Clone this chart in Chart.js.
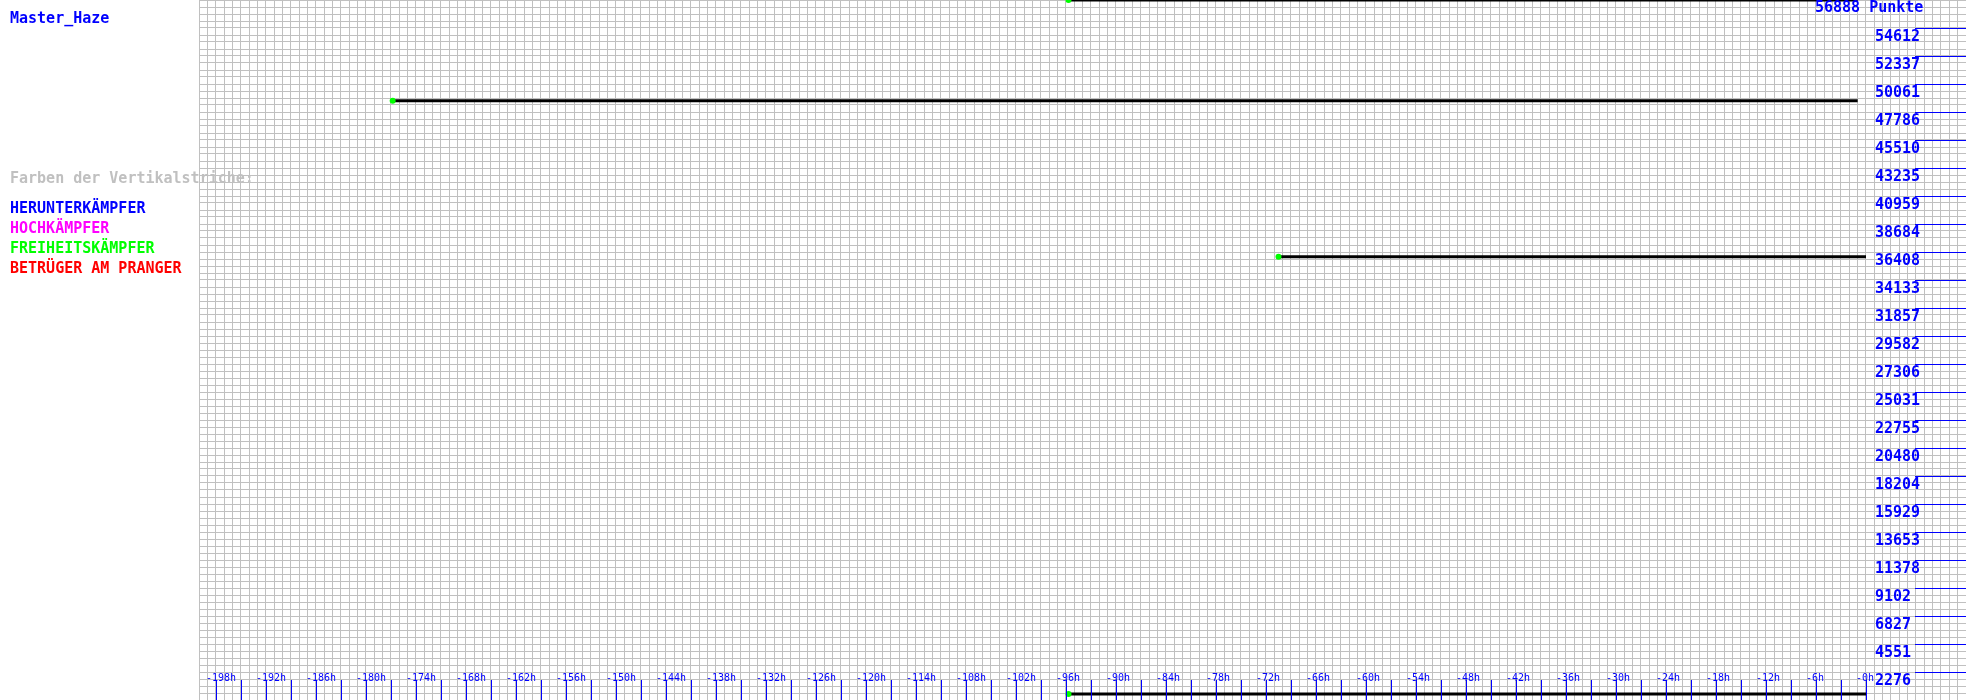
<!DOCTYPE html>
<html>
<head>
<meta charset="utf-8">
<script src="https://cdn.jsdelivr.net/npm/chart.js@4.4.0/dist/chart.umd.min.js"></script>
<style>
  html, body { margin: 0; padding: 0; background: #ffffff; }
  #wrap { position: relative; width: 1966px; height: 700px; }
  canvas { display: block; }
</style>
</head>
<body>
<div id="wrap"><canvas id="c" width="1966" height="700"></canvas></div>
<script>
// ---- data ----
const playerName = 'Master_Haze';
const legendTitle = 'Farben der Vertikalstriche:';
const legendLabels = ['HERUNTERKÄMPFER', 'HOCHKÄMPFER', 'FREIHEITSKÄMPFER', 'BETRÜGER AM PRANGER'];
const legendColors = ['#0000ff', '#ff00ff', '#00ff00', '#ff0000'];

// horizontal segments: start hour, end hour, points
const segStartHours = [-95.7, -176.8, -70.5, -95.7];
const segEndHours   = [-1, -1, 0, 0];
const segPoints     = [56888, 48705, 36027, 488];

const yMax = 56888;
const yTopLabel = '56888 Punkte';
const yTickValues = [2276, 4551, 6827, 9102, 11378, 13653, 15929, 18204, 20480, 22755, 25031, 27306,
  29582, 31857, 34133, 36408, 38684, 40959, 43235, 45510, 47786, 50061, 52337, 54612];
const yTickLabels = ['2276', '4551', '6827', '9102', '11378', '13653', '15929', '18204', '20480', '22755', '25031', '27306',
  '29582', '31857', '34133', '36408', '38684', '40959', '43235', '45510', '47786', '50061', '52337', '54612'];

const xTickLabels = ['-198h','-192h','-186h','-180h','-174h','-168h','-162h','-156h','-150h','-144h','-138h','-132h',
  '-126h','-120h','-114h','-108h','-102h','-96h','-90h','-84h','-78h','-72h','-66h','-60h','-54h','-48h','-42h',
  '-36h','-30h','-24h','-18h','-12h','-6h','-0h'];
const xMarkStep = 3;

// ---- chart ----
const datasets = segPoints.map((v, i) => ({
  data: [{x: segStartHours[i], y: v}, {x: segEndHours[i], y: v}],
  borderColor: '#000000',
  borderWidth: 3,
  pointRadius: [3, 0],
  pointHoverRadius: 0,
  pointBackgroundColor: '#00ff00',
  pointBorderColor: '#00ff00',
  pointBorderWidth: 0,
  tension: 0,
  fill: false
}));

const overlay = {
  id: 'overlay',
  afterDraw(chart) {
    const ctx = chart.ctx;
    const xs = chart.scales.x, ys = chart.scales.y;
    ctx.save();
    ctx.textBaseline = 'alphabetic';
    ctx.textAlign = 'left';
    ctx.font = 'bold 15px "DejaVu Sans Mono"';
    ctx.fillStyle = '#0000ff';
    ctx.fillText(playerName, 10, 23);
    ctx.fillStyle = '#c0c0c0';
    ctx.fillText(legendTitle, 10, 183);
    legendLabels.forEach((t, i) => {
      ctx.fillStyle = legendColors[i];
      ctx.fillText(t, 10, 213 + i * 20);
    });

    // y tick marks + labels
    ctx.strokeStyle = '#0000ff';
    ctx.fillStyle = '#0000ff';
    ctx.lineWidth = 1;
    yTickValues.forEach((v, i) => {
      const py = Math.round(ys.getPixelForValue(v)) + 0.5;
      ctx.beginPath();
      ctx.moveTo(1915, py);
      ctx.lineTo(1966, py);
      ctx.stroke();
      ctx.fillText(yTickLabels[i], 1875, py + 12.5);
    });
    ctx.fillText(yTopLabel, 1815, 12);

    // x tick marks
    const first = parseFloat(xTickLabels[0]);
    for (let h = first; h <= 0; h += xMarkStep) {
      const px = Math.round(xs.getPixelForValue(h)) + 0.5;
      ctx.beginPath();
      ctx.moveTo(px, 680);
      ctx.lineTo(px, 700);
      ctx.stroke();
    }
    ctx.font = '10px "DejaVu Sans Mono"';
    xTickLabels.forEach(t => {
      const px = Math.round(xs.getPixelForValue(parseFloat(t)));
      ctx.fillText(t, px - 10, 681);
    });
    ctx.restore();
  }
};

new Chart(document.getElementById('c'), {
  type: 'line',
  data: { datasets },
  options: {
    responsive: false,
    devicePixelRatio: 1,
    animation: false,
    events: [],
    layout: { autoPadding: false, padding: { left: 199.33, right: 0, top: 0, bottom: 0 } },
    plugins: { legend: { display: false }, tooltip: { enabled: false }, title: { display: false } },
    scales: {
      x: {
        type: 'linear',
        min: -200, max: 12,
        border: { display: false },
        grid: { color: '#c0c0c0', lineWidth: 1, drawTicks: false },
        ticks: { display: false, stepSize: 1, autoSkip: false }
      },
      y: {
        type: 'linear',
        min: 0, max: yMax,
        border: { display: false },
        grid: { color: '#c0c0c0', lineWidth: 1, drawTicks: false },
        ticks: { display: false, stepSize: yMax / 100, autoSkip: false }
      }
    }
  },
  plugins: [overlay]
});
</script>
</body>
</html>
